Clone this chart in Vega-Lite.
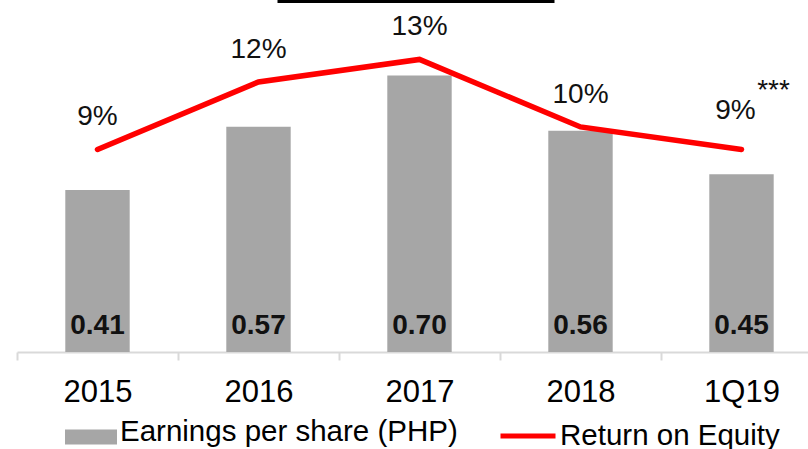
{
  "$schema": "https://vega.github.io/schema/vega-lite/v6.json",
  "width": 805,
  "height": 352,
  "autosize": {"type": "none"},
  "padding": {"left": 17, "top": 0, "right": 0, "bottom": 97},
  "config": {
    "view": {"stroke": null},
    "font": "Liberation Sans",
    "legend": {"labelFont": "Liberation Sans", "labelFontSize": 29.5, "labelColor": "#000000", "labelLimit": 500}
  },
  "data": {
    "values": [
      {"period": "2015", "eps": 0.41, "roe": 0.09},
      {"period": "2016", "eps": 0.57, "roe": 0.12},
      {"period": "2017", "eps": 0.70, "roe": 0.13},
      {"period": "2018", "eps": 0.56, "roe": 0.10},
      {"period": "1Q19", "eps": 0.45, "roe": 0.09}
    ]
  },
  "encoding": {
    "x": {
      "field": "period",
      "type": "nominal",
      "sort": null,
      "scale": {"paddingInner": 0, "paddingOuter": 0},
      "axis": {
        "title": null,
        "labelAngle": 0,
        "labelFont": "Liberation Sans",
        "labelFontSize": 31,
        "labelColor": "#000000",
        "labelPadding": 17,
        "tickBand": "extent",
        "tickSize": 8,
        "tickWidth": 2,
        "tickColor": "#d9d9d9",
        "domainColor": "#d9d9d9",
        "domainWidth": 2
      }
    }
  },
  "layer": [
    {
      "mark": {"type": "bar", "width": {"band": 0.4}},
      "encoding": {
        "y": {"field": "eps", "type": "quantitative", "scale": {"domain": [0, 0.891]}, "axis": null},
        "fill": {
          "datum": "Earnings per share (PHP)",
          "scale": {"range": ["#a6a6a6"]},
          "legend": {"orient": "none", "legendX": 48, "legendY": 406, "title": null, "symbolType": "M-1,-0.096H1V0.48H-1Z", "symbolSize": 2704, "labelOffset": 3, "symbolStrokeWidth": 0}
        }
      }
    },
    {
      "mark": {"type": "text", "fontSize": 28, "fontWeight": "bold", "color": "#111111", "baseline": "alphabetic", "dy": -18},
      "encoding": {
        "y": {"datum": 0, "type": "quantitative", "scale": {"domain": [0, 0.891]}, "axis": null},
        "text": {"field": "eps", "type": "quantitative", "format": ".2f"}
      }
    },
    {
      "mark": {"type": "line", "strokeWidth": 5.5, "strokeCap": "round"},
      "encoding": {
        "y": {"field": "roe", "type": "quantitative", "scale": {"domain": [0, 0.1564]}, "axis": null},
        "stroke": {
          "datum": "Return on Equity",
          "scale": {"range": ["#ff0000"]},
          "legend": {"orient": "none", "legendX": 481, "legendY": 406, "title": null, "symbolType": "stroke", "symbolSize": 3025, "symbolStrokeWidth": 5, "labelOffset": 2}
        }
      }
    },
    {
      "transform": [{"filter": "datum.period !== '1Q19'"}],
      "mark": {"type": "text", "fontSize": 28, "color": "#111111", "baseline": "alphabetic", "dy": -24},
      "encoding": {
        "y": {"field": "roe", "type": "quantitative", "scale": {"domain": [0, 0.1564]}, "axis": null},
        "text": {"field": "roe", "type": "quantitative", "format": ".0%"}
      }
    },
    {
      "transform": [{"filter": "datum.period === '1Q19'"}],
      "mark": {"type": "text", "fontSize": 28, "color": "#111111", "baseline": "alphabetic", "dy": -30, "dx": -6},
      "encoding": {
        "y": {"field": "roe", "type": "quantitative", "scale": {"domain": [0, 0.1564]}, "axis": null},
        "text": {"field": "roe", "type": "quantitative", "format": ".0%"}
      }
    },
    {
      "transform": [{"filter": "datum.period === '1Q19'"}],
      "mark": {"type": "text", "fontSize": 28, "color": "#111111", "baseline": "alphabetic", "dy": -50, "dx": 32, "text": "***"},
      "encoding": {
        "y": {"field": "roe", "type": "quantitative", "scale": {"domain": [0, 0.1564]}, "axis": null}
      }
    },
    {
      "data": {"values": [{"period": "2017"}]},
      "mark": {"type": "bar", "width": 277, "color": "#000000", "xOffset": -3.5},
      "encoding": {
        "y": {"datum": 0.891, "type": "quantitative", "scale": {"domain": [0, 0.891]}, "axis": null},
        "y2": {"datum": 0.8834}
      }
    }
  ],
  "resolve": {"scale": {"y": "independent"}}
}
